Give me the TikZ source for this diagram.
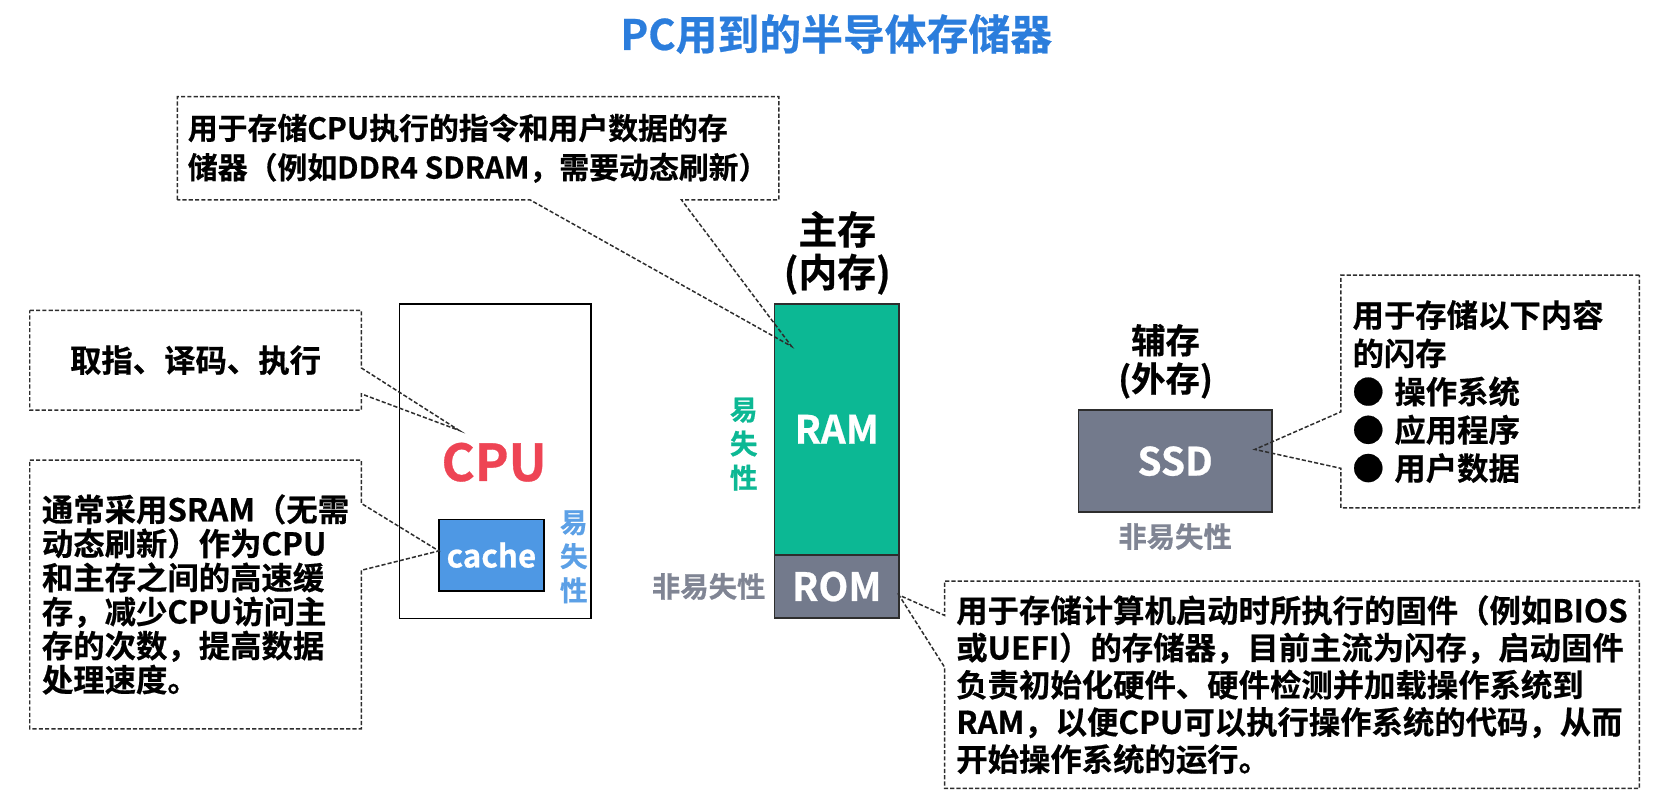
\documentclass[tikz,border=0pt]{standalone}
\usepackage{fontspec}
\setmainfont{Noto Sans CJK SC}[BoldFont={Noto Sans CJK SC Bold},BoldFeatures={FakeBold=0.6}]
\usetikzlibrary{calc,positioning}
\definecolor{titleblue}{RGB}{43,125,220}
\definecolor{ramgreen}{RGB}{12,184,148}
\definecolor{romgray}{RGB}{115,122,140}
\definecolor{nvgray}{RGB}{128,133,148}
\definecolor{cpured}{RGB}{238,68,84}
\definecolor{cacheblue}{RGB}{78,152,228}
\definecolor{volblue}{RGB}{92,160,230}
\definecolor{lineblack}{RGB}{45,45,45}
\tikzset{
  block/.style    = {draw=lineblack, line width=1.2pt, inner sep=0pt, outer sep=0pt,
                     anchor=north west, text=white},
  note/.style     = {inner sep=0pt, outer sep=0pt, anchor=north west, align=left,
                     font=\bfseries\fontsize{21}{25}\selectfont},
  noteline/.style = {draw=lineblack, line width=1pt, dash pattern=on 2.8pt off 1.4pt},
  tag/.style      = {inner sep=0pt, align=center, font=\bfseries\fontsize{18.5}{22.8}\selectfont},
  head/.style     = {inner sep=0pt, align=center},
}
\begin{document}
\begin{tikzpicture}[x=0.25mm,y=-0.25mm]
  \useasboundingbox (0,0) rectangle (1568,763);
  \node[font=\bfseries\fontsize{28}{30}\selectfont, text=titleblue] (title) at (787,32)
      {PC用到的半导体存储器};

  % main memory
  \node[block, fill=ramgreen, minimum width=29.25mm, minimum height=59mm,
        font=\bfseries\fontsize{26}{30}\selectfont] (ram) at (729,286) {RAM};
  \node[block, fill=romgray, minimum width=29.25mm, minimum height=15mm,
        font=\bfseries\fontsize{26}{30}\selectfont, below=0pt of ram] (rom) {ROM};
  \node[head, font=\bfseries\fontsize{26}{28.5}\selectfont] (mainlbl) at (788,238) {主存\\(内存)};
  \node[tag, text=ramgreen] (volram) at (700,418) {易\\失\\性};
  \node[tag, text=nvgray, font=\bfseries\fontsize{19}{22}\selectfont] (nvrom) at (667,552) {非易失性};

  % cpu
  \node[block, draw=black, line width=1pt, fill=white, minimum width=45mm, minimum height=74mm]
      (cpubox) at (376,286) {};
  \node[text=cpured, font=\bfseries\fontsize{34}{40}\selectfont] (cpulbl) at (465,435) {CPU};
  \node[block, draw=black, fill=cacheblue, minimum width=24.75mm, minimum height=16.75mm,
        font=\bfseries\fontsize{21}{24}\selectfont] (cache) at (413,489) {cache};
  \node[tag, text=volblue] (volcache) at (540,524) {易\\失\\性};

  % secondary storage
  \node[head, font=\bfseries\fontsize{23}{25.6}\selectfont] (sublbl) at (1097,340) {辅存\\(外存)};
  \node[block, fill=romgray, minimum width=45.5mm, minimum height=24mm,
        font=\bfseries\fontsize{26}{30}\selectfont] (ssd) at (1015,386) {SSD};
  \node[tag, text=nvgray, font=\bfseries\fontsize{19}{22}\selectfont] (nvssd) at (1106,505) {非易失性};

  % notes
  \node[note, minimum width=141.5mm, minimum height=24.25mm, font=\bfseries\fontsize{20}{26.3}\selectfont]
      (noteram) at (167,91) {用于存储CPU执行的指令和用户数据的存\\储器（例如DDR4 SDRAM，需要动态刷新）};
  \node[note, align=center, minimum width=78mm, minimum height=23.5mm] (notefetch) at (28,292)
      {取指、译码、执行};
  \node[note, minimum width=78mm, minimum height=63.25mm, font=\bfseries\fontsize{21}{22.8}\selectfont]
      (notecache) at (28,433) {通常采用SRAM（无需\\动态刷新）作为CPU\\和主存之间的高速缓\\存，减少CPU访问主\\存的次数，提高数据\\处理速度。};
  \node[note, inner xsep=2.75mm, text width=64.75mm, minimum height=54.75mm,
        font=\bfseries\fontsize{21}{25.6}\selectfont]
      (notessd) at (1262,259) {用于存储以下内容\\的闪存\\●\ 操作系统\\●\ 应用程序\\●\ 用户数据};
  \node[note, minimum width=163.5mm, minimum height=48.75mm, font=\bfseries\fontsize{21}{24.9}\selectfont]
      (noterom) at (889,547) {用于存储计算机启动时所执行的固件（例如BIOS\\或UEFI）的存储器，目前主流为闪存，启动固件\\负责初始化硬件、硬件检测并加载操作系统到\\RAM，以便CPU可以执行操作系统的代码，从而\\开始操作系统的运行。};

  \coordinate (ramtip) at ($(ram.north west)+(16,40)$);
  \coordinate (cputip) at ($(cpubox.north west)+(56,119)$);
  \coordinate (cachetip) at ($(cache.west)+(0,-4)$);
  \coordinate (ssdtip) at ($(ssd.east)+(-16,-11)$);
  \coordinate (romtip) at ($(rom.east)+(0,8)$);

  \draw[noteline] (noteram.south west) -- (noteram.north west) -- (noteram.north east)
      -- (noteram.south east) -- ($(noteram.south west)!0.838!(noteram.south east)$) -- (ramtip)
      -- ($(noteram.south west)!0.586!(noteram.south east)$) -- cycle;
  \foreach \n/\t/\a/\b in {notefetch/cputip/0.577/0.837, notecache/cachetip/0.161/0.41}
     {\draw[noteline] (\n.north west) -- (\n.north east) -- ($(\n.north east)!\a!(\n.south east)$)
         -- (\t) -- ($(\n.north east)!\b!(\n.south east)$) -- (\n.south east) -- (\n.south west) -- cycle;}
  \foreach \n/\t/\a/\b in {notessd/ssdtip/0.587/0.83, noterom/romtip/0.165/0.415}
     {\draw[noteline] (\n.north east) -- (\n.north west) -- ($(\n.north west)!\a!(\n.south west)$)
         -- (\t) -- ($(\n.north west)!\b!(\n.south west)$) -- (\n.south west) -- (\n.south east) -- cycle;}
\end{tikzpicture}
\end{document}
